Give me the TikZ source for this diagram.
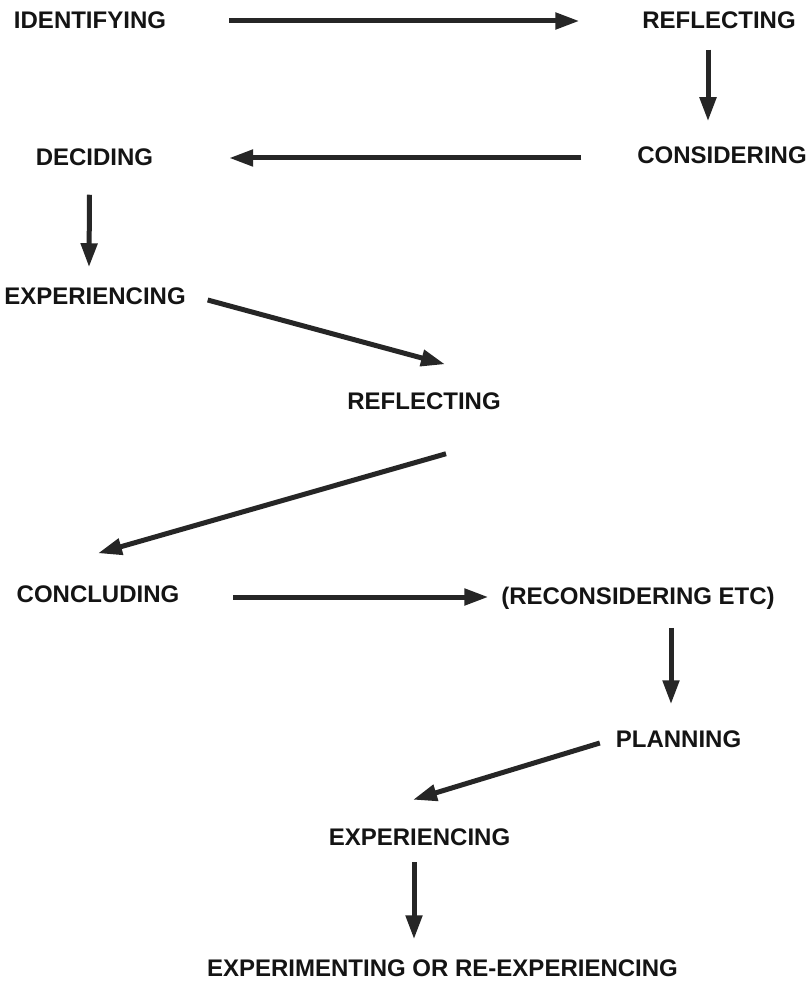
\documentclass[tikz,border=0pt]{standalone}
\usepackage{fontspec}
\setmainfont{Liberation Sans}
\usetikzlibrary{arrows.meta,calc}
\begin{document}
\begin{tikzpicture}[x=1pt,y=-1pt,
  stage/.style={inner sep=0pt,outer sep=0pt,text height=17.5pt,text depth=0pt,
    font=\fontsize{24}{28}\selectfont\bfseries,text=black!92},
  flow/.style={draw=black!85,line width=5pt,
    -{Triangle[length=24pt,width=16pt]}}]
\useasboundingbox[fill=white] (0,0) rectangle (809,984);

% stages
\node[stage] (id)    at (90,20)      {IDENTIFYING};
\node[stage] (r1)    at (719,20)     {REFLECTING};
\node[stage] (cons)  at (722,155)    {CONSIDERING};
\node[stage] (dec)   at (94.5,157)   {DECIDING};
\node[stage] (exp1)  at (95,296)     {EXPERIENCING};
\node[stage] (r2)    at (424,401)    {REFLECTING};
\node[stage] (conc)  at (98,594)     {CONCLUDING};
\node[stage] (recon) at (638,596)    {(RECONSIDERING ETC)};
\node[stage] (plan)  at (678.5,739)  {PLANNING};
\node[stage] (exp2)  at (419.5,836.5){EXPERIENCING};
\node[stage] (final) at (442.5,968)  {EXPERIMENTING OR RE-EXPERIENCING};

% connectors
\draw[flow] ($(id.east)+(63,1)$) -- ($(r1.west)+(-63,1)$);
\draw[flow] ($(r1.south)+(-11,21)$) -- ($(cons.north)+(-14,-25)$);
\draw[flow] ($(cons.west)+(-56,3)$) -- ($(dec.east)+(76,1)$);
\draw[flow] ($(dec.south)+(-5,29)$) -- ($(exp1.north)+(-6,-20)$);
\draw[flow] ($(exp1.east)+(22,4)$) -- ($(r2.north)+(21,-28)$);
\draw[flow] ($(r2.south)+(22,44)$) -- ($(conc.north)+(0,-32)$);
\draw[flow] ($(conc.east)+(54,3)$) -- ($(recon.west)+(-13,1)$);
\draw[flow] ($(recon.south)+(33,23)$) -- ($(plan.north)+(-7.5,-26)$);
\draw[flow] ($(plan.west)+(-16,4)$) -- ($(exp2.north)+(-6.5,-28)$);
\draw[flow] ($(exp2.south)+(-5.5,17)$) -- ($(final.north)+(-28.5,-20)$);
\end{tikzpicture}
\end{document}
